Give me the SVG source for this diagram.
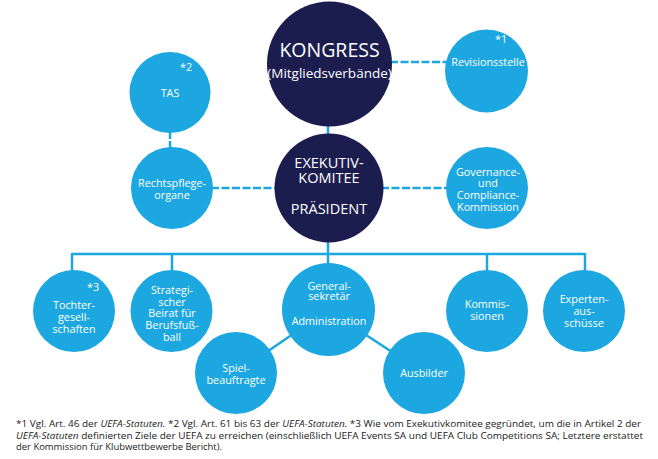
<svg xmlns="http://www.w3.org/2000/svg" width="658" height="459" viewBox="0 0 658 459">
<style>
.dark{fill:#1b1d4f}
.blue{fill:#1ca7e0}
.con{stroke:#1ca7e0;stroke-width:2.5;fill:none}
.dash{stroke-dasharray:8 2.5}
.lbl{font-family:"Open Sans","DejaVu Sans",sans-serif;fill:#fff;text-anchor:middle;font-size:10.8px}
.big{font-family:"Open Sans","DejaVu Sans",sans-serif;fill:#fff;text-anchor:middle}
.note{font-family:"Open Sans","DejaVu Sans",sans-serif;fill:#222;font-size:9.6px}
</style>
<rect width="658" height="459" fill="#fff"/>
<g id="connectors">
<line class="con dash" x1="390" y1="62" x2="447" y2="62"/>
<line class="con dash" x1="211" y1="188" x2="277" y2="188"/>
<line class="con dash" x1="381" y1="188" x2="447" y2="188"/>
<line class="con" x1="170" y1="132" x2="170" y2="139"/>
<line class="con" x1="170" y1="141" x2="170" y2="148"/>
<line class="con" x1="328" y1="124" x2="328" y2="136"/>
<line class="con" x1="328" y1="240" x2="328" y2="254"/>
<line class="con" x1="72" y1="254" x2="585" y2="254"/>
<line class="con" x1="72" y1="253" x2="72" y2="273"/>
<line class="con" x1="172" y1="253" x2="172" y2="273"/>
<line class="con" x1="328" y1="253" x2="328" y2="266"/>
<line class="con" x1="487" y1="253" x2="487" y2="273"/>
<line class="con" x1="585" y1="253" x2="585" y2="273"/>
<line class="con" x1="328" y1="310" x2="236" y2="373"/>
<line class="con" x1="328" y1="310" x2="424" y2="373"/>
</g>
<g id="kongress">
<circle class="dark" cx="329.5" cy="64" r="62.5"/>
<text class="big" x="329.5" y="57" font-size="19.5">KONGRESS</text>
<text class="big" x="329.5" y="78" font-size="13.5">(Mitgliedsverbände)</text>
</g>
<g id="revisionsstelle">
<circle class="blue" cx="486.5" cy="71" r="41.5"/>
<text class="lbl" x="501" y="43">*1</text>
<text class="lbl" x="488" y="66">Revisionsstelle</text>
</g>
<g id="tas">
<circle class="blue" cx="170" cy="92.5" r="40.5"/>
<text class="lbl" x="186" y="71" font-size="12">*2</text>
<text class="lbl" x="170" y="97">TAS</text>
</g>
<g id="rechtspflege">
<circle class="blue" cx="172" cy="188" r="41"/>
<text class="lbl" x="172" y="187">Rechtspflege-</text>
<text class="lbl" x="172" y="199">organe</text>
</g>
<g id="exekutiv">
<circle class="dark" cx="329" cy="188" r="54.5"/>
<text class="big" x="329" y="168" font-size="14.5">EXEKUTIV-</text>
<text class="big" x="329" y="183" font-size="14.5">KOMITEE</text>
<text class="big" x="329" y="214" font-size="14.5">PRÄSIDENT</text>
</g>
<g id="governance">
<circle class="blue" cx="487" cy="188" r="41"/>
<text class="lbl" x="488" y="176">Governance-</text>
<text class="lbl" x="488" y="187">und</text>
<text class="lbl" x="488" y="199">Compliance-</text>
<text class="lbl" x="488" y="211">Kommission</text>
</g>
<g id="tochter">
<circle class="blue" cx="74" cy="311" r="41"/>
<text class="lbl" x="93" y="291" font-size="12">*3</text>
<text class="lbl" x="74" y="309">Tochter-</text>
<text class="lbl" x="74" y="321">gesell-</text>
<text class="lbl" x="74" y="333">schaften</text>
</g>
<g id="strategischer">
<circle class="blue" cx="171.5" cy="311" r="41"/>
<text class="lbl" x="172" y="294">Strategi-</text>
<text class="lbl" x="172" y="306">scher</text>
<text class="lbl" x="172" y="317">Beirat für</text>
<text class="lbl" x="172" y="329">Berufsfuß-</text>
<text class="lbl" x="172" y="341">ball</text>
</g>
<g id="generalsekretaer">
<circle class="blue" cx="328.5" cy="309.5" r="46.5"/>
<text class="lbl" x="329" y="290">General-</text>
<text class="lbl" x="329" y="300">sekretär</text>
<text class="lbl" x="329" y="325">Administration</text>
</g>
<g id="spielbeauftragte">
<circle class="blue" cx="236" cy="373" r="41"/>
<text class="lbl" x="236" y="372">Spiel-</text>
<text class="lbl" x="236" y="384">beauftragte</text>
</g>
<g id="ausbilder">
<circle class="blue" cx="424" cy="373" r="41"/>
<text class="lbl" x="424" y="377">Ausbilder</text>
</g>
<g id="kommissionen">
<circle class="blue" cx="487" cy="311" r="41"/>
<text class="lbl" x="487" y="308">Kommis-</text>
<text class="lbl" x="487" y="320">sionen</text>
</g>
<g id="experten">
<circle class="blue" cx="584" cy="311" r="41"/>
<text class="lbl" x="584" y="303">Experten-</text>
<text class="lbl" x="584" y="315">aus-</text>
<text class="lbl" x="584" y="327">schüsse</text>
</g>
<g id="footnote">
<text class="note" x="16" y="427" textLength="625" lengthAdjust="spacingAndGlyphs">*1 Vgl. Art. 46 der <tspan font-style="italic">UEFA-Statuten.</tspan>  *2 Vgl. Art. 61 bis 63 der <tspan font-style="italic">UEFA-Statuten.</tspan>  *3 Wie vom Exekutivkomitee gegründet, um die in Artikel 2 der</text>
<text class="note" x="16" y="438.5" textLength="627" lengthAdjust="spacingAndGlyphs"><tspan font-style="italic">UEFA-Statuten</tspan> definierten Ziele der UEFA zu erreichen (einschließlich UEFA Events SA und UEFA Club Competitions SA; Letztere erstattet</text>
<text class="note" x="16" y="450" textLength="206" lengthAdjust="spacingAndGlyphs">der Kommission für Klubwettbewerbe Bericht).</text>
</g>
</svg>
